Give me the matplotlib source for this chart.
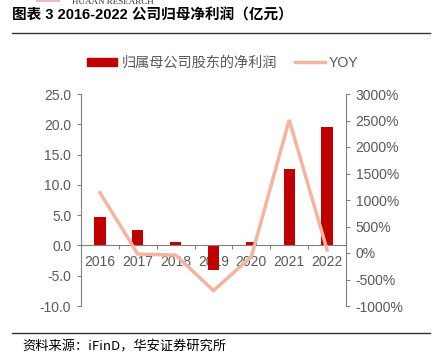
import numpy as np
import matplotlib
matplotlib.use("Agg")
import matplotlib.pyplot as plt
from matplotlib.lines import Line2D
from matplotlib.patches import Rectangle

plt.rcParams['font.family'] = ['Liberation Sans', 'Noto Sans CJK SC', 'DejaVu Sans']

years = ['2016', '2017', '2018', '2019', '2020', '2021', '2022']
profit = [4.7, 2.5, 0.6, -4.1, 0.5, 12.6, 19.5]          # 亿元
yoy = [1140, -20, -40, -710, -70, 2510, 60]              # %

bar_color = '#C00000'
line_color = '#F4B5A0'
grey = '#595959'
axis_grey = '#808080'

W, H = 433, 362
fig = plt.figure(figsize=(W / 100, H / 100), dpi=100)

def px(x, y):
    return x / W, 1 - y / H

# header (logo text sits at the very top edge, as in the source)
fig.text(*px(72, 2), 'HUAAN RESEARCH', family='Liberation Serif', fontsize=6.5,
         color='#333333', va='center', ha='left')
fig.patches.append(Rectangle(px(36, 2), 24 / W, 3 / H, transform=fig.transFigure,
                             color='#F2B8C6', lw=0))
fig.text(*px(12, 15), '图表 3 2016-2022 公司归母净利润（亿元）', fontsize=10.5,
         fontweight='bold', family=['Liberation Sans', 'Noto Sans CJK SC'],
         color='black', va='center', ha='left')
fig.add_artist(Line2D([12 / W, 430 / W], [1 - 33 / H] * 2, color='#333333', lw=1))
fig.add_artist(Line2D([12 / W, 430 / W], [1 - 333 / H] * 2, color='#333333', lw=1))
fig.text(*px(22, 347), '资料来源：iFinD，华安证券研究所', fontsize=9.5,
         family=['Noto Sans CJK SC', 'Liberation Sans'], color='black',
         va='center', ha='left')

# main axes
l, b = px(81, 306)
r, t = px(346, 94)
ax = fig.add_axes([l, b, r - l, t - b])
x = np.arange(len(years))
ax.bar(x, profit, width=0.3, color=bar_color, zorder=2)
ax.set_xlim(-0.5, len(years) - 0.5)
ax.set_ylim(-10, 25)
ax.set_yticks(np.arange(-10, 26, 5))
ax.set_yticklabels([f'{v:.1f}' for v in np.arange(-10, 26, 5)])
ax.spines['top'].set_visible(False)
ax.spines['right'].set_visible(False)
ax.spines['left'].set_color(axis_grey)
ax.spines['bottom'].set_position(('data', 0))
ax.spines['bottom'].set_color(axis_grey)
ax.set_xticks(x[:-1] + 0.5)
ax.set_xticklabels([])
ax.set_xticks(x, minor=True)
ax.set_xticklabels(years, minor=True)
ax.tick_params(axis='x', which='major', direction='out', length=3, color=axis_grey)
ax.tick_params(axis='x', which='minor', length=0, pad=7, labelsize=10, labelcolor=grey)
ax.tick_params(axis='y', direction='out', length=3, color=axis_grey, labelsize=10,
               labelcolor=grey, pad=4)

ax2 = ax.twinx()
ax2.plot(x, yoy, color=line_color, lw=2.5, solid_joinstyle='miter')
ax2.set_ylim(-1000, 3000)
ax2.set_yticks(np.arange(-1000, 3001, 500))
ax2.set_yticklabels([f'{v}%' for v in np.arange(-1000, 3001, 500)])
for s in ['top', 'left', 'bottom']:
    ax2.spines[s].set_visible(False)
ax2.spines['right'].set_color(axis_grey)
ax2.tick_params(axis='y', direction='out', length=3, color=axis_grey, labelsize=10,
                labelcolor=grey, pad=4)

# legend
handles = [Rectangle((0, 0), 1, 1, color=bar_color),
           Line2D([], [], color=line_color, lw=2.5)]
fig.legend(handles, ['归属母公司股东的净利润', 'YOY'], loc='center',
           bbox_to_anchor=px(223, 63), ncol=2, frameon=False,
           handlelength=2.1, handleheight=0.5, columnspacing=1.3, handletextpad=0.3,
           prop={'family': ['Liberation Sans', 'Noto Sans CJK SC'], 'size': 10.2},
           labelcolor=grey)

fig.savefig('out.png', dpi=100)
